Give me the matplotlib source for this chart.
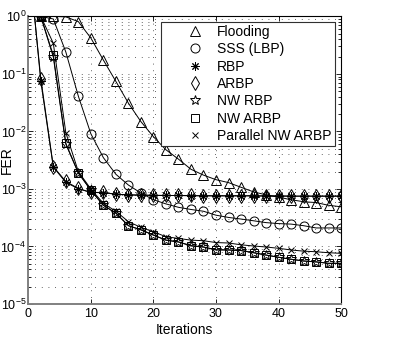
import matplotlib
matplotlib.use('Agg')
import matplotlib.pyplot as plt

plt.rcParams['font.family'] = ['Liberation Sans', 'DejaVu Sans']
plt.rcParams['mathtext.default'] = 'regular'

# iterations (markers every 2 iterations, curves start at iteration 1)
iters = [1, 2, 4, 6, 8, 10, 12, 14, 16, 18, 20, 22, 24, 26,
         28, 30, 32, 34, 36, 38, 40, 42, 44, 46, 48, 50]

flooding = [1.0, 1.0, 1.0, 0.98, 0.81, 0.42, 0.174, 0.074, 0.031, 0.0148,
            0.0081, 0.0048, 0.0033, 0.0022, 0.00174, 0.00145, 0.00129,
            0.00107, 0.00089, 0.00079, 0.00072, 0.00065, 0.00060, 0.00058,
            0.00052, 0.00049]
sss = [1.0, 1.0, 0.9, 0.24, 0.041, 0.0091, 0.0035, 0.0018, 0.00117, 0.00085,
       0.00065, 0.00055, 0.00048, 0.00044, 0.00041, 0.00035, 0.00032,
       0.00030, 0.00028, 0.00026, 0.00025, 0.000245, 0.00023, 0.00021,
       0.00021, 0.00021]
rbp = [1.0, 0.074, 0.0024, 0.0013, 0.00101, 0.00087, 0.00086, 0.00081,
       0.00079, 0.00078, 0.00077, 0.00077, 0.00077, 0.00076, 0.00076,
       0.00076, 0.00076, 0.00076, 0.00076, 0.00075, 0.00075, 0.00075,
       0.00075, 0.00075, 0.00075, 0.00075]
arbp = [1.0, 0.083, 0.00245, 0.00135, 0.00102, 0.00087, 0.00087, 0.00081,
        0.00079, 0.00078, 0.00078, 0.00077, 0.00077, 0.00077, 0.00076,
        0.00076, 0.00076, 0.00076, 0.00076, 0.00076, 0.00076, 0.00075,
        0.00075, 0.00075, 0.00075, 0.00075]
nw_rbp = [1.0, 1.0, 0.195, 0.006, 0.0019, 0.00095, 0.00052, 0.00038,
          0.00023, 0.000195, 0.000158, 0.000129, 0.00012, 0.000104,
          0.000098, 0.000088, 0.000087, 0.000085, 0.000078, 0.000071,
          0.000065, 0.00006, 0.000056, 0.000054, 0.000051, 0.000051]
nw_arbp = [1.0, 1.0, 0.21, 0.0062, 0.0019, 0.00095, 0.00052, 0.00038,
           0.00023, 0.000195, 0.000158, 0.000129, 0.00012, 0.000102,
           0.000098, 0.000087, 0.000087, 0.000085, 0.000078, 0.000071,
           0.000065, 0.00006, 0.000056, 0.000054, 0.000051, 0.000051]
par_nw_arbp = [1.0, 1.0, 0.34, 0.0095, 0.002, 0.001, 0.00056, 0.00041,
               0.00027, 0.000215, 0.00018, 0.000148, 0.000138, 0.000129,
               0.000126, 0.000117, 0.000115, 0.000107, 0.000102, 0.000098,
               0.000093, 0.000087, 0.000083, 0.000081, 0.000078, 0.000076]

series = [
    ('Flooding', flooding, '^', 6.5),
    ('SSS (LBP)', sss, 'o', 6.5),
    ('RBP', rbp, (8, 2, 0), 6),
    ('ARBP', arbp, 'd', 7),
    ('NW RBP', nw_rbp, '*', 7.5),
    ('NW ARBP', nw_arbp, 's', 5.5),
    ('Parallel NW ARBP', par_nw_arbp, 'x', 5),
]

fig = plt.figure(figsize=(3.93, 3.56), dpi=100)
ax = fig.add_axes([0.072, 0.146, 0.796, 0.808])

for name, vals, mk, ms in series:
    ax.plot(iters, vals, color='black', lw=0.7, marker=mk, ms=ms,
            mfc='none', mec='black', mew=0.7, markevery=slice(1, None),
            label=name)

ax.set_yscale('log')
ax.set_xlim(0, 50)
ax.set_ylim(1e-5, 1)
ax.set_xticks([0, 10, 20, 30, 40, 50])
ax.set_yticks([1e-5, 1e-4, 1e-3, 1e-2, 1e-1, 1])

grid_kw = dict(color='#303030', lw=0.6, ls=(0, (1, 7)))
ax.yaxis.grid(True, which='both', **grid_kw)
ax.xaxis.grid(True, which='major', **grid_kw)
ax.set_axisbelow(True)

ax.tick_params(which='both', direction='in', top=True, right=True,
               labelsize=9, width=0.6)
ax.tick_params(which='major', length=3.5)
ax.tick_params(which='minor', length=2)
ax.tick_params(axis='y', pad=1.5)
ax.tick_params(axis='x', pad=3)

for side in ['left', 'bottom']:
    ax.spines[side].set_color('#808080')
    ax.spines[side].set_linewidth(1.4)
for side in ['top', 'right']:
    ax.spines[side].set_color('black')
    ax.spines[side].set_linewidth(0.8)

ax.set_xlabel('Iterations', fontsize=10, labelpad=2)
ax.set_ylabel('FER', fontsize=10)
ax.yaxis.set_label_coords(-0.047, 0.5)

leg = ax.legend(loc='upper right', bbox_to_anchor=(0.98, 0.982),
                borderaxespad=0, fontsize=10, handlelength=4.4,
                handletextpad=-0.6, borderpad=0.25, labelspacing=0.24,
                fancybox=False, framealpha=1, edgecolor='#303030')
leg.get_frame().set_linewidth(0.8)
for h in leg.legend_handles:
    h.set_linestyle('none')

fig.savefig('out.png', dpi=100)
